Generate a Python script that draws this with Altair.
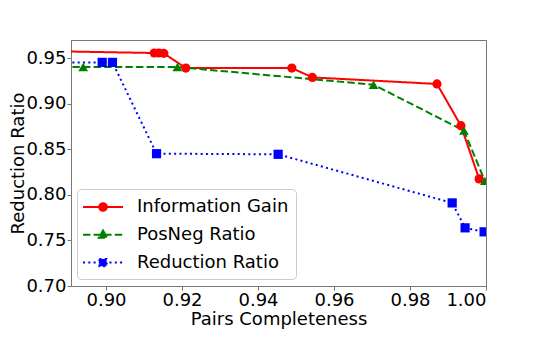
import altair as alt
import pandas as pd

series_names = ["Information Gain", "PosNeg Ratio", "Reduction Ratio"]

ig_x = [0.880, 0.9127, 0.9139, 0.9152, 0.9210, 0.9489, 0.9543, 0.9871, 0.9934, 0.9982]
ig_y = [0.9584, 0.9560, 0.9560, 0.9557, 0.9395, 0.9395, 0.9292, 0.9220, 0.8762, 0.8177]

pn_x = [0.880, 0.8940, 0.9188, 0.9704, 0.9942, 0.9997]
pn_y = [0.9406, 0.9406, 0.9406, 0.9212, 0.8707, 0.8155]

rr_x = [0.880, 0.8990, 0.9017, 0.9133, 0.9453, 0.9911, 0.9945, 0.9995]
rr_y = [0.9457, 0.9457, 0.9457, 0.8454, 0.8447, 0.7913, 0.7639, 0.7595]

x_ticks = [0.90, 0.92, 0.94, 0.96, 0.98, 1.00]
y_ticks = [0.70, 0.75, 0.80, 0.85, 0.90, 0.95]

rows = []
for name, xs, ys in zip(series_names, [ig_x, pn_x, rr_x], [ig_y, pn_y, rr_y]):
    for a, b in zip(xs, ys):
        rows.append({"series": name, "pc": a, "rr": b})
df = pd.DataFrame(rows)

colors = ["#ff0000", "#008000", "#0000ff"]
dashes = [[1, 0], [7.4, 3.2], [2, 3.3]]
legend_paths = [
    "M-2,0H2M-0.38,0A0.38,0.38 0 1,0 0.38,0A0.38,0.38 0 1,0 -0.38,0Z",
    "M-2,0H2M0,-0.42L0.42,0.3L-0.42,0.3Z",
    "M-2,0H2M-0.36,-0.36H0.36V0.36H-0.36Z",
]
point_shapes = ["circle", "triangle-up", "square"]
point_sizes = [85, 95, 85]

FONT = "DejaVu Sans"

xenc = alt.X("pc:Q", title="Pairs Completeness",
             scale=alt.Scale(domain=[0.89079, 1.0], nice=False, zero=False),
             axis=alt.Axis(values=x_ticks, format=".2f", titlePadding=1))
yenc = alt.Y("rr:Q", title="Reduction Ratio",
             scale=alt.Scale(domain=[0.70, 0.9703], nice=False, zero=False),
             axis=alt.Axis(values=y_ticks, format=".2f", titleX=-47.5,
                           titleBaseline="alphabetic", titleAngle=270))

def sc(rng):
    return alt.Scale(domain=series_names, range=rng)

leg = alt.Legend(title=None, orient="none", legendX=6, legendY=149,
                 symbolSize=400, symbolStrokeWidth=2, symbolOpacity=1,
                 symbolOffset=8,
                 labelFontSize=18, labelFont=FONT, labelColor="black",
                 labelOffset=23, rowPadding=7.8,
                 padding=7, cornerRadius=4,
                 strokeColor="#cccccc", fillColor="white")

lines = alt.Chart(df).mark_line(strokeWidth=2, clip=True).encode(
    x=xenc, y=yenc,
    stroke=alt.Stroke("series:N", scale=sc(colors), legend=leg),
    strokeDash=alt.StrokeDash("series:N", scale=sc(dashes), legend=leg),
    detail="series:N",
)

point_layers = []
for name, shp, sz in zip(series_names, point_shapes, point_sizes):
    point_layers.append(
        alt.Chart(df).mark_point(filled=True, size=sz, opacity=1, shape=shp, clip=True).encode(
            x=xenc, y=yenc,
            fill=alt.Fill("series:N", scale=sc(colors), legend=leg),
        ).transform_filter(alt.datum.series == name)
    )

legend_layer = alt.Chart(df).mark_point(filled=True, strokeWidth=2, size=0, clip=True).encode(
    x=xenc, y=yenc,
    fill=alt.Fill("series:N", scale=sc(colors), legend=leg),
    stroke=alt.Stroke("series:N", scale=sc(colors), legend=leg),
    strokeDash=alt.StrokeDash("series:N", scale=sc(dashes), legend=leg),
    shape=alt.Shape("series:N", scale=sc(legend_paths), legend=leg),
)

chart = alt.layer(lines, *point_layers, legend_layer).properties(
    width=415, height=246,
    autosize=alt.AutoSizeParams(type="none"),
    padding={"left": 63, "top": 32, "right": 38, "bottom": 48},
).configure_axis(
    labelFont=FONT, labelFontSize=18, labelColor="black",
    titleFont=FONT, titleFontSize=18, titleFontWeight="normal", titleColor="black",
    grid=False, domainColor="#777777", tickColor="#777777", tickSize=4,
    labelPadding=1,
).configure_view(stroke="#777777", strokeWidth=1)

chart.save("out.html", embed_options={"renderer": "svg", "actions": False})
